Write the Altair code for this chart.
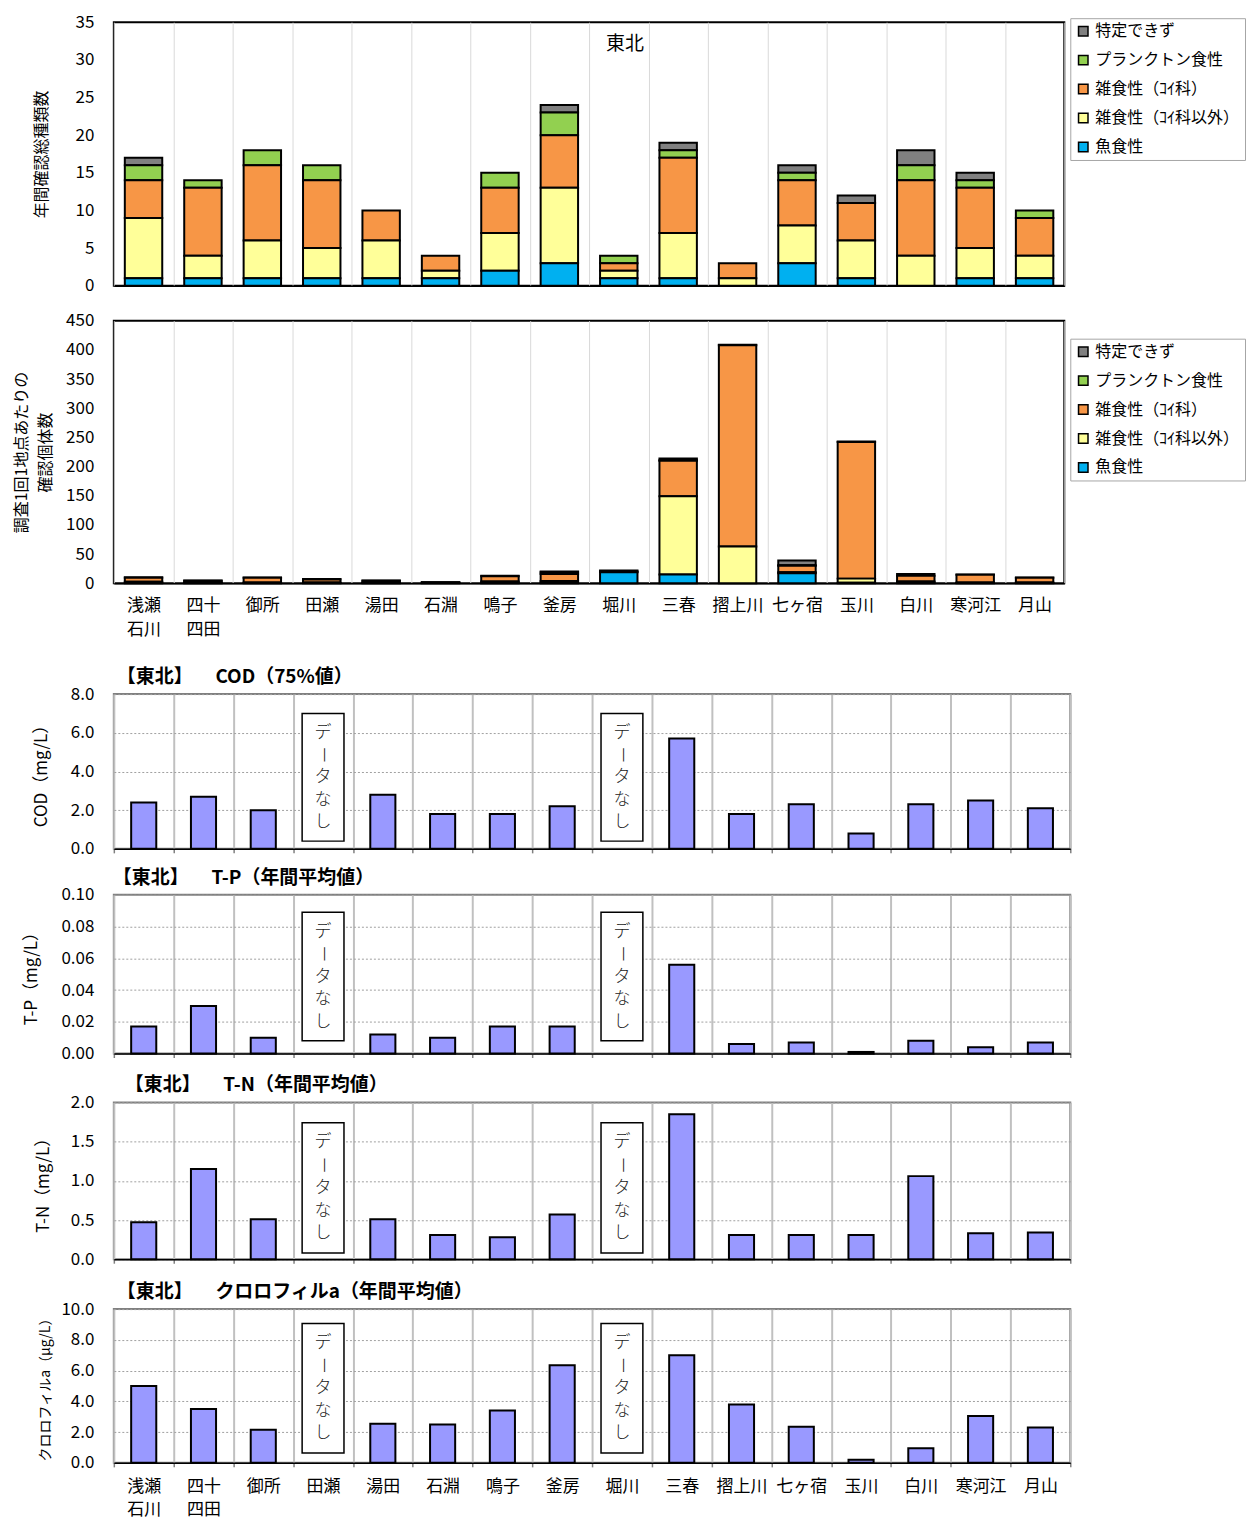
import altair as alt
import pandas as pd

FONT = "Noto Sans CJK JP"

# ---------------- data ----------------
sites = ["浅瀬石川", "四十四田", "御所", "田瀬", "湯田", "石淵", "鳴子", "釜房",
         "堀川", "三春", "摺上川", "七ヶ宿", "玉川", "白川", "寒河江", "月山"]
two_line_labels = {"浅瀬石川": ["浅瀬", "石川"], "四十四田": ["四十", "四田"]}

guilds = ["特定できず", "プランクトン食性", "雑食性（ｺｲ科）", "雑食性（ｺｲ科以外）", "魚食性"]
guild_colors = ["#808080", "#92D050", "#F79646", "#FFFF99", "#00B0F0"]

# 年間確認総種類数
species_unknown = [1, 0, 0, 0, 0, 0, 0, 1, 0, 1, 0, 1, 1, 2, 1, 0]
species_plankton = [2, 1, 2, 2, 0, 0, 2, 3, 1, 1, 0, 1, 0, 2, 1, 1]
species_carp = [5, 9, 10, 9, 4, 2, 6, 7, 1, 10, 2, 6, 5, 10, 8, 5]
species_noncarp = [8, 3, 5, 4, 5, 1, 5, 10, 1, 6, 1, 5, 5, 4, 4, 3]
species_fish = [1, 1, 1, 1, 1, 1, 2, 3, 1, 1, 0, 3, 1, 0, 1, 1]

# 調査1回1地点あたりの確認個体数
count_unknown = [1, 0.5, 0.5, 1, 0.5, 0.2, 1, 1, 2, 3, 1, 8, 1, 3, 0.5, 0.5]
count_plankton = [0, 0, 0, 0, 0, 0, 0, 3, 0, 1, 0, 1, 0, 0, 0, 0]
count_carp = [7, 3, 8, 5, 3, 1, 9, 12, 1, 61, 345, 11, 234, 10, 13, 8]
count_noncarp = [2, 1, 1, 1, 1, 0.5, 2, 3, 0, 134, 63, 2, 7, 2, 1, 1]
count_fish = [0.5, 0.5, 0.5, 0.5, 0.5, 0.3, 1, 1, 19, 15, 0, 17, 1, 1, 0.5, 0.5]

# 水質
cod = [2.4, 2.7, 2.0, None, 2.8, 1.8, 1.8, 2.2, None, 5.7, 1.8, 2.3, 0.8, 2.3, 2.5, 2.1]
tp = [0.017, 0.030, 0.010, None, 0.012, 0.010, 0.017, 0.017, None, 0.056, 0.006,
      0.007, 0.001, 0.008, 0.004, 0.007]
tn = [0.47, 1.15, 0.51, None, 0.51, 0.31, 0.28, 0.57, None, 1.85, 0.31, 0.31, 0.31,
      1.06, 0.33, 0.34]
chla = [5.0, 3.5, 2.15, None, 2.55, 2.5, 3.4, 6.35, None, 7.0, 3.8, 2.35, 0.2, 0.95,
        3.05, 2.3]

no_data_sites = ["田瀬", "堀川"]
no_data_text = "データなし"

# ---------------- layout constants ----------------
W_TOP = 952
W_Q = 958
GAP = "　\u2002\u2009"
LABEL_EXPR = " : ".join(
    f"datum.value == '{k}' ? {v!r}" for k, v in two_line_labels.items()
) + " : datum.value"


def site_x(show_labels, grid_color, grid_width, min_extent, ticks=False,
           label_pad=14, line_h=24):
    kw = dict(title=None, labelAngle=0, labels=show_labels, tickBand="extent",
              grid=True, gridColor=grid_color, gridWidth=grid_width,
              ticks=ticks, tickSize=4, tickColor="#808080", tickWidth=1.5,
              domain=True, domainColor="black", domainWidth=1.5,
              minExtent=min_extent, maxExtent=min_extent + 60)
    if show_labels:
        kw.update(labelExpr=LABEL_EXPR, labelFont=FONT, labelFontSize=17,
                  labelColor="black", labelPadding=label_pad,
                  labelLineHeight=line_h)
    return alt.X("site:N", sort=sites,
                 scale=alt.Scale(paddingInner=0, paddingOuter=0),
                 axis=alt.Axis(**kw))


def stacked_panel(series, ytitle, ydomain, yvalues, height, legend_dx, legend_y,
                  show_labels, min_extent, title_x, title_font=16, region=None):
    rows = []
    for gi, vals in enumerate(series):
        for s, v in zip(sites, vals):
            if v > 0:
                rows.append({"site": s, "guild": guilds[gi], "value": v,
                             "stack": len(guilds) - 1 - gi})
    df = pd.DataFrame(rows)
    bars = alt.Chart(df).mark_bar(
        width=alt.RelativeBandSize(0.63), stroke="black", strokeWidth=2
    ).encode(
        x=site_x(show_labels, "#d9d9d9", 1, min_extent),
        y=alt.Y("value:Q", stack=True,
                scale=alt.Scale(domain=ydomain, nice=False),
                axis=alt.Axis(values=yvalues, grid=False, ticks=False, domain=False,
                              labelFont=FONT, labelFontSize=17, labelColor="black",
                              labelPadding=20, title=ytitle, titleFont=FONT,
                              titleFontSize=title_font, titleFontWeight="normal",
                              titleColor="black", titleX=title_x,
                              titleBaseline="middle", titleLineHeight=24)),
        color=alt.Color("guild:N",
                        scale=alt.Scale(domain=guilds, range=guild_colors),
                        legend=alt.Legend(orient="none", legendX=W_TOP + legend_dx,
                                          legendY=legend_y, title=None,
                                          labelFont=FONT, labelFontSize=16,
                                          labelColor="black", labelOffset=4,
                                          symbolType="square", symbolSize=90,
                                          symbolStrokeColor="black",
                                          symbolStrokeWidth=1.5,
                                          rowPadding=13, padding=5,
                                          strokeColor="#a6a6a6", fillColor="white",
                                          labelLimit=400)),
        order=alt.Order("stack:Q", sort="ascending"),
    )
    layers = [bars]
    if region:
        layers.append(
            alt.Chart(pd.DataFrame({"t": [region]})).mark_text(
                font=FONT, fontSize=19, color="black", align="center",
                baseline="middle"
            ).encode(text="t:N", x=alt.value(512), y=alt.value(22))
        )
    return alt.layer(*layers).properties(
        width=W_TOP, height=height,
        view=alt.ViewBackground(stroke="black", strokeWidth=2))


def quality_panel(vals, title, title_dx, ytitle, ydomain, yvalues, fmt, box_range,
                  height, min_extent, show_labels, title_x, title_font=17):
    x_enc = site_x(show_labels, "#c0c0c0", 2, min_extent, ticks=True,
                   label_pad=12, line_h=23)
    y_axis = alt.Axis(values=yvalues, format=fmt, grid=True,
                      gridColor="#a0a0a0", gridDash=[2, 2], gridWidth=1,
                      ticks=False, domain=False, labelFont=FONT,
                      labelFontSize=17, labelColor="black", labelPadding=20,
                      title=ytitle, titleFont=FONT, titleFontSize=title_font,
                      titleFontWeight="normal", titleColor="black",
                      titleX=title_x, titleBaseline="middle")
    y_scale = alt.Scale(domain=ydomain, nice=False)

    df = pd.DataFrame({"site": sites, "value": vals})
    bars = alt.Chart(df).mark_bar(
        width=alt.RelativeBandSize(0.42), fill="#9999FF", stroke="black",
        strokeWidth=2
    ).encode(x=x_enc, y=alt.Y("value:Q", scale=y_scale, axis=y_axis))

    lo, hi = box_range
    box_df = pd.DataFrame({"site": no_data_sites, "lo": [lo] * len(no_data_sites),
                           "hi": [hi] * len(no_data_sites)})
    boxes = alt.Chart(box_df).mark_bar(
        width=alt.RelativeBandSize(0.7), fill="white", stroke="black",
        strokeWidth=1.5
    ).encode(x=x_enc, y=alt.Y("lo:Q", scale=y_scale, axis=y_axis), y2="hi:Q")

    mid = (lo + hi) / 2
    step = (hi - lo) * 0.175
    crow = []
    for s in no_data_sites:
        for i, ch in enumerate(no_data_text):
            crow.append({"site": s, "ch": ch, "pos": mid + (2 - i) * step,
                         "rot": 90 if ch == "ー" else 0})
    chars = alt.Chart(pd.DataFrame(crow)).mark_text(
        font=FONT, fontSize=17, fontWeight=300, color="#222222", align="center",
        baseline="middle"
    ).encode(x=x_enc, y=alt.Y("pos:Q", scale=y_scale, axis=y_axis),
             text="ch:N", angle=alt.Angle("rot:Q", scale=None))

    return alt.layer(bars, boxes, chars).properties(
        width=W_Q, height=height,
        title=alt.TitleParams(title, anchor="start", frame="group", font=FONT,
                              fontSize=19, fontWeight="bold", color="black",
                              offset=-2, dx=title_dx),
        view=alt.ViewBackground(stroke="#808080", strokeWidth=2))


p1 = stacked_panel(
    [species_unknown, species_plankton, species_carp, species_noncarp, species_fish],
    "年間確認総種類数", [0, 35], list(range(0, 36, 5)), 264, 6, -4,
    False, 24, -72, region="東北")
p2 = stacked_panel(
    [count_unknown, count_plankton, count_carp, count_noncarp, count_fish],
    ["調査1回1地点あたりの", "確認個体数"], [0, 450], list(range(0, 451, 50)), 263,
    6, 18, True, 83, -92)
p3 = quality_panel(cod, f"【東北】{GAP}COD（75%値）", 3, "COD（mg/L）", [0, 8],
                   [0, 2, 4, 6, 8], ".1f", (0.4, 7.0), 155, 18, False, -72)
p4 = quality_panel(tp, f"【東北】{GAP}T-P（年間平均値）", -1, "T-P（mg/L）", [0, 0.1],
                   [0, 0.02, 0.04, 0.06, 0.08, 0.10], ".2f", (0.008, 0.089), 159, 21,
                   False, -82)
p5 = quality_panel(tn, f"【東北】{GAP}T-N（年間平均値）", 11, "T-N（mg/L）", [0, 2],
                   [0, 0.5, 1.0, 1.5, 2.0], ".1f", (0.08, 1.74), 157, 22, False, -70)
p6 = quality_panel(chla, f"【東北】{GAP}クロロフィルa（年間平均値）", 3,
                   "クロロフィルa（μg/L）", [0, 10], [0, 2, 4, 6, 8, 10], ".1f",
                   (0.65, 9.07), 154, 10, True, -68, title_font=14)

chart = alt.vconcat(p1, p2, p3, p4, p5, p6, spacing=0).resolve_scale(
    color="independent", y="independent", x="independent"
).resolve_legend(color="independent").properties(
    padding={"left": 4, "top": 3, "right": 0, "bottom": 0}
).configure(font=FONT).configure_view(stroke=None)

chart.save("out.html", embed_options={"renderer": "svg", "actions": False})
